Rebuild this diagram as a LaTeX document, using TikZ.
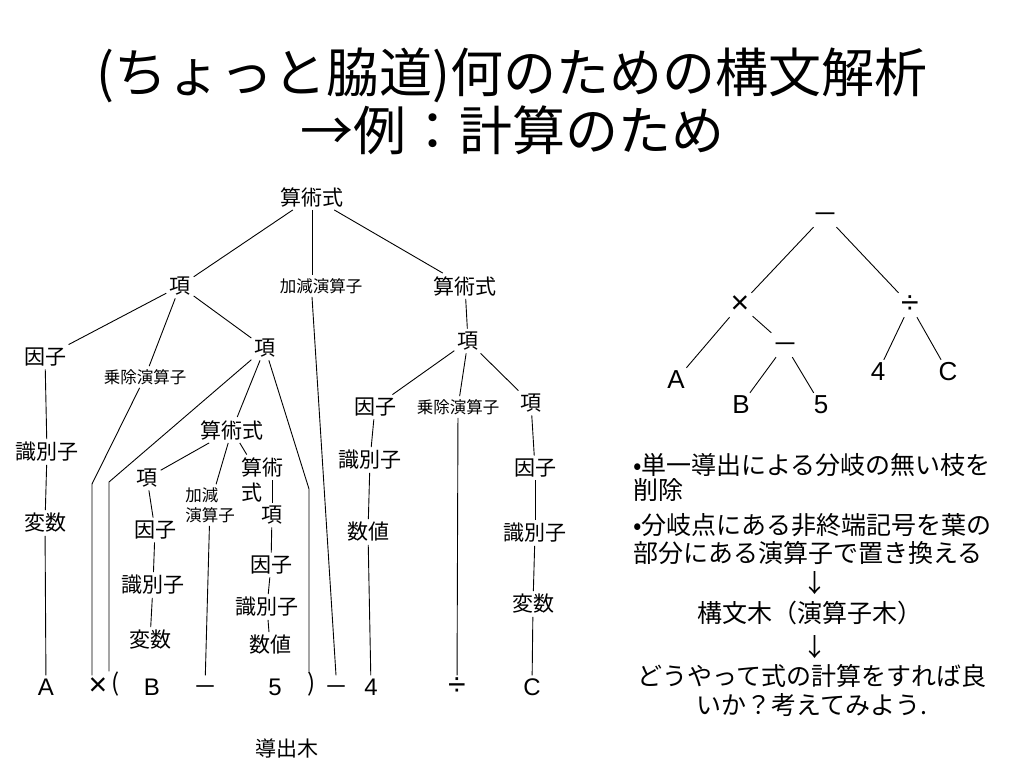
\documentclass[tikz,border=0pt]{standalone}
\usepackage{fontspec}
\setmainfont{Liberation Sans}
\newfontfamily\jp{Noto Sans CJK JP}
\tikzstyle{heading}=[font=\jp\fontsize{53}{58}\selectfont,inner sep=0pt]
\tikzstyle{nt}=[font=\jp\fontsize{21}{25}\selectfont,inner sep=3pt]
\tikzstyle{opname}=[font=\jp\fontsize{16.5}{20}\selectfont,inner sep=3pt]
\tikzstyle{leaf}=[font=\fontsize{24}{28}\selectfont,text height=17pt,text depth=0pt,inner sep=3pt]
\tikzstyle{opleaf}=[font=\fontsize{26}{30}\selectfont,text height=18pt,text depth=0pt,inner sep=3pt]
\tikzstyle{bigop}=[font=\fontsize{32}{36}\selectfont]
\tikzstyle{note}=[font=\jp\fontsize{25}{30}\selectfont,inner sep=0pt]
\tikzstyle{branch}=[line width=0.9pt]
\begin{document}
\begin{tikzpicture}[x=1pt,y=1pt]
            \fill[white] (0,0) rectangle (1024,768);
            \useasboundingbox (0,0) rectangle (1024,768);
            % title
            \node (head1)[heading] at (512,693) {(ちょっと脇道)何のための構文解析};
            \node (head2)[heading] at (512,638) {→例：計算のため};
            % derivation tree
            \node (root)[nt] at (312,571) {算術式};
            \node (kouL)[nt] at (180,482) {項};
            \node (kagen)[opname] at (321,482) {加減演算子};
            \node (sanR)[nt] at (465,482) {算術式};
            \node (inshiA)[nt] at (45,411) {因子};
            \node (jojoL)[opname] at (145,391) {乗除演算子};
            \node (kouM)[nt] at (265,420) {項};
            \node (kouR)[nt] at (468,427) {項};
            \node (sanI)[nt] at (232,338) {算術式};
            \node (inshiR)[nt] at (375,361) {因子};
            \node (jojoR)[opname] at (458,361) {乗除演算子};
            \node (kouRR)[nt] at (531,365) {項};
            \node (shikiA)[nt] at (47,316) {識別子};
            \node (hensuA)[nt] at (45,245) {変数};
            \node (kouI)[nt] at (147,290) {項};
            \node (kagenI)[opname,align=left] at (210,263) {加減\\演算子};
            \node (sanJ)[nt,align=left] at (262,288) {算術\\式};
            \node (kouJ)[nt] at (272,253) {項};
            \node (inshiI)[nt] at (155,238) {因子};
            \node (shikiI)[nt] at (153,183) {識別子};
            \node (hensuI)[nt] at (150,128) {変数};
            \node (inshiJ)[nt] at (271,203) {因子};
            \node (shikiJ)[nt] at (267,161) {識別子};
            \node (suchiJ)[nt] at (270,123) {数値};
            \node (shikiR)[nt] at (370,308) {識別子};
            \node (suchiR)[nt] at (368,236) {数値};
            \node (inshiRR)[nt] at (535,300) {因子};
            \node (shikiRR)[nt] at (535,235) {識別子};
            \node (hensuRR)[nt] at (533,164) {変数};
            % leaves
            \node (lA)[leaf] at (46,81) {A};
            \node (ltimes)[leaf,bigop] at (98,81) {×};
            \node (lparen)[leaf] at (116,85) {\jp (};
            \node (lB)[leaf] at (152,81) {B};
            \node (lminusI)[leaf] at (205,81) {\jp －};
            \node (l5)[leaf] at (275,81) {5};
            \node (rparen)[leaf] at (312,85) {\jp )};
            \node (lminus)[leaf] at (336,81) {\jp －};
            \node (l4)[leaf] at (371,81) {4};
            \node (ldiv)[leaf,bigop] at (457,81) {÷};
            \node (lC)[leaf] at (532,81) {C};
            \node (dtree)[nt] at (287,20) {導出木};
            \coordinate (bendA) at (92,284);
            \coordinate (bendB) at (109,286);
            \coordinate (bendC) at (309,279);
            \draw [branch] (root) -- (kouL);
            \draw [branch] (root.south) -- (root.south |- kagen.north);
            \draw [branch] (root) -- (sanR);
            \draw [branch] (kouL) -- (inshiA);
            \draw [branch] (kouL) -- (jojoL);
            \draw [branch] (kouL) -- (kouM);
            \draw [branch] (kagen.south -| root.south) -- (lminus.north);
            \draw [branch] (sanR) -- (kouR);
            \draw [branch] (kouR) -- (inshiR);
            \draw [branch] (kouR) -- (jojoR);
            \draw [branch] (kouR) -- (kouRR);
            \draw [branch] (inshiA) -- (shikiA);
            \draw [branch] (shikiA) -- (hensuA);
            \draw [branch] (hensuA) -- (lA);
            \draw [branch] (jojoL) -- (bendA) -- (bendA |- ltimes.north);
            \draw [branch] (kouM) -- (bendB) -- (bendB |- lparen.north);
            \draw [branch] (kouM) -- (sanI);
            \draw [branch] (kouM) -- (bendC) -- (bendC |- rparen.north);
            \draw [branch] (sanI) -- (kouI);
            \draw [branch] (sanI) -- (kagenI);
            \draw [branch] (sanI) -- (sanJ);
            \draw [branch] (kouI) -- (inshiI);
            \draw [branch] (inshiI) -- (shikiI);
            \draw [branch] (shikiI) -- (hensuI);
            \draw [branch] (kagenI) -- (lminusI);
            \draw [branch] (kouJ.north) -- (kouJ.north |- sanJ.center);
            \draw [branch] (kouJ) -- (inshiJ);
            \draw [branch] (inshiJ) -- (shikiJ);
            \draw [branch] (shikiJ) -- (suchiJ);
            \draw [branch] (inshiR) -- (shikiR);
            \draw [branch] (shikiR) -- (suchiR);
            \draw [branch] (suchiR) -- (l4);
            \draw [branch] (jojoR) -- (ldiv);
            \draw [branch] (kouRR) -- (inshiRR);
            \draw [branch] (inshiRR) -- (shikiRR);
            \draw [branch] (shikiRR) -- (hensuRR);
            \draw [branch] (hensuRR) -- (lC);
            % operator tree
            \node (oproot)[opleaf] at (825,553) {\jp －};
            \node (optimes)[opleaf,bigop] at (740,463) {×};
            \node (opdiv)[opleaf,bigop] at (910,463) {÷};
            \node (opminus)[opleaf] at (785,423) {\jp －};
            \node (opA)[opleaf] at (676,388) {A};
            \node (op4)[opleaf] at (878,396) {4};
            \node (opC)[opleaf] at (948,396) {C};
            \node (opB)[opleaf] at (741,363) {B};
            \node (op5)[opleaf] at (821,363) {5};
            \draw [branch] (oproot) -- (optimes);
            \draw [branch] (oproot) -- (opdiv);
            \draw [branch] (optimes) -- (opA);
            \draw [branch] (optimes) -- (opminus);
            \draw [branch] (opminus) -- (opB);
            \draw [branch] (opminus) -- (op5);
            \draw [branch] (opdiv) -- (op4);
            \draw [branch] (opdiv) -- (opC);
            % notes
            \node (note1)[note,anchor=west] at (633,303) {•単一導出による分岐の無い枝を};
            \node (note2)[note,anchor=west] at (633,278) {削除};
            \node (note3)[note,anchor=west] at (633,243) {•分岐点にある非終端記号を葉の};
            \node (note4)[note,anchor=west] at (633,215) {部分にある演算子で置き換える};
            \node (arrow1)[note] at (815,185) {↓};
            \node (syntax)[note] at (810,155) {構文木（演算子木）};
            \node (arrow2)[note] at (815,121) {↓};
            \node (quest1)[note] at (812,92) {どうやって式の計算をすれば良};
            \node (quest2)[note] at (812,63) {いか？考えてみよう.};
        \end{tikzpicture}
\end{document}
